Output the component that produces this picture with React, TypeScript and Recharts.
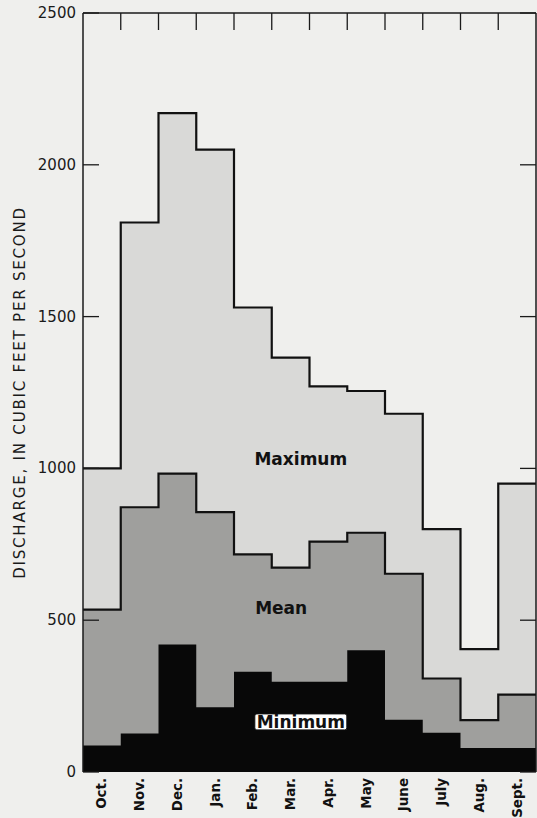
import { ComposedChart, Area, XAxis, YAxis, ReferenceDot } from 'recharts';

// Monthly discharge, cubic feet per second (water year Oct - Sept)
const months = ['Oct.', 'Nov.', 'Dec.', 'Jan.', 'Feb.', 'Mar.', 'Apr.', 'May', 'June', 'July', 'Aug.', 'Sept.'];
const maximum = [1000, 1810, 2170, 2050, 1530, 1365, 1270, 1255, 1180, 800, 405, 950];
const mean = [535, 872, 983, 856, 717, 673, 759, 788, 653, 308, 171, 255];
const minimum = [87, 127, 420, 213, 330, 297, 297, 401, 172, 129, 79, 79];
const yTicks = [0, 500, 1000, 1500, 2000, 2500];

const rows = months.map((m, i) => ({ x: i, month: m, max: maximum[i], mean: mean[i], min: minimum[i] }));
// stepAfter needs one closing point at the right edge of the last month
const data = [...rows, { ...rows[rows.length - 1], x: months.length }];

const monthCentres = months.map((_, i) => i + 0.5);
const monthEdges = months.slice(1).map((_, i) => i + 1);

const FONT = '"DejaVu Sans", sans-serif';
const INK = '#1a1a1a';
const TICK_LEN = 16;
const LABEL_GAP = 7;

const monthTick = (props: any) => {
  const x = Number(props.x);
  const y = Number(props.y);
  return (
    <text
      x={0}
      y={0}
      transform={`translate(${x},${y}) rotate(-90)`}
      textAnchor='end'
      dominantBaseline='central'
      fontFamily={FONT}
      fontSize={13.4}
      fontWeight='bold'
      fill='#111'
    >
      {months[Math.floor(props.payload.value)]}
    </text>
  );
};

// ticks on this chart point inwards, so the tick marks are drawn here
const topTick = (props: any) => {
  const x = Number(props.x);
  const y = Number(props.y);
  return <path d={`M${x},${y}V${y + TICK_LEN + 1}`} stroke={INK} strokeWidth={1.3} />;
};

const leftTick = (props: any) => {
  const x = Number(props.x);
  const y = Number(props.y);
  const axisX = x + LABEL_GAP;
  return (
    <g>
      <path d={`M${axisX},${y}H${axisX + TICK_LEN}`} stroke={INK} strokeWidth={1.3} />
      <text
        x={x}
        y={y}
        textAnchor='end'
        dominantBaseline='central'
        fontFamily={FONT}
        fontSize={15}
        fill={INK}
      >
        {props.payload.value}
      </text>
    </g>
  );
};

const rightTick = (props: any) => {
  const x = Number(props.x);
  const y = Number(props.y);
  return <path d={`M${x},${y}H${x - TICK_LEN}`} stroke={INK} strokeWidth={1.3} />;
};

const plainLabel = (text: string) => (p: any) => (
  <text
    x={p.cx}
    y={p.cy}
    textAnchor='middle'
    dominantBaseline='central'
    fontFamily={FONT}
    fontSize={17}
    fontWeight='bold'
    fill='#111'
  >
    {text}
  </text>
);

const boxedLabel = (text: string) => (p: any) => (
  <g>
    <rect x={p.cx - 46} y={p.cy - 8} width={92} height={16} rx={2} fill='#fff' stroke='#111' strokeWidth={1} />
    <text
      x={p.cx}
      y={p.cy}
      textAnchor='middle'
      dominantBaseline='central'
      fontFamily={FONT}
      fontSize={17}
      fontWeight='bold'
      fill='#111'
    >
      {text}
    </text>
  </g>
);

export default function App() {
  return (
    <div style={{ position: 'absolute', left: 0, top: 0, width: 537, height: 818, background: '#efefed' }}>
      <ComposedChart
        width={537}
        height={818}
        data={data}
        margin={{ top: 12, right: 0, bottom: 0, left: 0 }}
      >
        <Area
          xAxisId='bottom'
          yAxisId='left'
          type='stepAfter'
          dataKey='max'
          fill='#d9d9d7'
          fillOpacity={1}
          stroke='#111'
          strokeWidth={2.2}
          dot={false}
          activeDot={false}
          isAnimationActive={false}
        />
        <Area
          xAxisId='bottom'
          yAxisId='left'
          type='stepAfter'
          dataKey='mean'
          fill='#9f9f9d'
          fillOpacity={1}
          stroke='#111'
          strokeWidth={2.2}
          dot={false}
          activeDot={false}
          isAnimationActive={false}
        />
        {/* same 0-2500 scale; bound to the right axis so that axis gets its ticks */}
        <Area
          xAxisId='bottom'
          yAxisId='right'
          type='stepAfter'
          dataKey='min'
          fill='#080808'
          fillOpacity={1}
          stroke='none'
          dot={false}
          activeDot={false}
          isAnimationActive={false}
        />
        <XAxis
          xAxisId='bottom'
          type='number'
          dataKey='x'
          domain={[0, months.length]}
          ticks={monthCentres}
          interval={0}
          height={46}
          axisLine={false}
          tickLine={false}
          tickSize={0}
          tickMargin={6}
          tick={monthTick}
        />
        <XAxis
          xAxisId='top'
          orientation='top'
          type='number'
          domain={[0, months.length]}
          ticks={monthEdges}
          interval={0}
          height={1}
          axisLine={{ stroke: INK, strokeWidth: 1.5 }}
          tickLine={false}
          tickSize={0}
          tickMargin={0}
          tick={topTick}
        />
        <YAxis
          yAxisId='left'
          type='number'
          domain={[0, 2500]}
          ticks={yTicks}
          interval={0}
          width={83}
          axisLine={{ stroke: INK, strokeWidth: 1.5 }}
          tickLine={false}
          tickSize={0}
          tickMargin={LABEL_GAP}
          tick={leftTick}
          label={{
            value: 'DISCHARGE, IN CUBIC FEET PER SECOND',
            angle: -90,
            position: 'insideLeft',
            offset: 20,
            style: {
              textAnchor: 'middle',
              fontFamily: FONT,
              fontSize: 15,
              letterSpacing: 1.8,
              fill: INK,
            },
          }}
        />
        <YAxis
          yAxisId='right'
          orientation='right'
          type='number'
          domain={[0, 2500]}
          ticks={yTicks}
          interval={0}
          width={1}
          axisLine={{ stroke: INK, strokeWidth: 1.5 }}
          tickLine={false}
          tickSize={0}
          tickMargin={0}
          tick={rightTick}
        />
        <ReferenceDot xAxisId='bottom' yAxisId='left' x={5.77} y={1030} r={0} shape={plainLabel('Maximum')} />
        <ReferenceDot xAxisId='bottom' yAxisId='left' x={5.25} y={540} r={0} shape={plainLabel('Mean')} />
        <ReferenceDot xAxisId='bottom' yAxisId='left' x={5.77} y={165} r={0} shape={boxedLabel('Minimum')} />
      </ComposedChart>
    </div>
  );
}
